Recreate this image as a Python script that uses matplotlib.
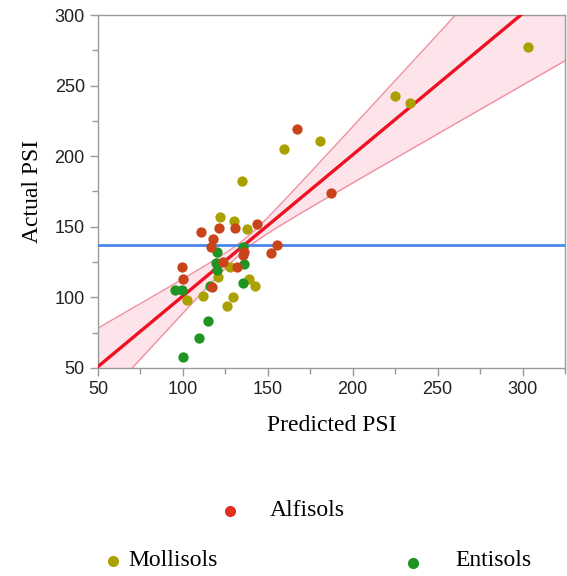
import numpy as np
import matplotlib
matplotlib.use("Agg")
import matplotlib.pyplot as plt
from matplotlib.ticker import MultipleLocator
from matplotlib.lines import Line2D

# Data (predicted, actual)
alfisols_pred = [167, 187, 143.5, 110.6, 121.2, 130.6, 117.6, 116.5, 155.3, 151.8, 136, 135.3, 123.5, 131.8, 99.4, 100, 117]
alfisols_act = [219, 174, 152, 146.3, 149, 149, 141.4, 135.7, 137, 131.4, 132, 130, 125, 121.5, 121.5, 113, 107.4]

mollisols_pred = [303, 224.7, 234, 159.4, 180.6, 134.7, 121.8, 130, 138, 102.4, 111.8, 125.9, 129.4, 138.8, 142.4, 120.6, 127.6]
mollisols_act = [277, 242.6, 237.7, 205, 210.8, 182.4, 157, 154, 148.4, 98.2, 101, 93.9, 100.3, 113, 108, 114.4, 121.5]

entisols_pred = [120, 135.3, 119.4, 135.9, 120, 95.3, 99.4, 115.9, 135.3, 114.7, 109.4, 100]
entisols_act = [132, 135.7, 124.4, 123.7, 119.4, 105.2, 105.2, 108, 110.2, 83.3, 71.2, 57.8]

# Fit line, mean of actual and confidence band shape
fit_slope = 1.0
fit_intercept = 1.0
mean_actual = 137
ci_center = 137
ci_base = 4.0
ci_slope = 0.31

x_min, x_max = 50, 325
y_min, y_max = 50, 300

fig = plt.figure(figsize=(5.67, 5.76), dpi=100)
ax = fig.add_axes([98 / 567, 1 - 368 / 576, 467 / 567, 353 / 576])

xs = np.linspace(x_min, x_max, 400)
fit = fit_slope * xs + fit_intercept
hw = np.sqrt(ci_base ** 2 + (ci_slope * (xs - ci_center)) ** 2)

ax.fill_between(xs, fit - hw, fit + hw, color="#fde3ea", zorder=1, lw=0)
ax.plot(xs, fit + hw, color="#f090a0", lw=1.0, zorder=2)
ax.plot(xs, fit - hw, color="#f090a0", lw=1.0, zorder=2)
ax.plot(xs, fit, color="#ee1122", lw=2.4, zorder=3)
ax.axhline(mean_actual, color="#4a86e8", lw=2.0, zorder=3)

dot = 55
ax.scatter(mollisols_pred, mollisols_act, s=dot, color="#aaa000", lw=0, zorder=4)
ax.scatter(entisols_pred, entisols_act, s=dot, color="#1e9422", lw=0, zorder=5)
ax.scatter(alfisols_pred, alfisols_act, s=dot, color="#c9441a", lw=0, zorder=6)

ax.set_xlim(x_min, x_max)
ax.set_ylim(y_min, y_max)
ax.xaxis.set_major_locator(MultipleLocator(50))
ax.xaxis.set_minor_locator(MultipleLocator(25))
ax.yaxis.set_major_locator(MultipleLocator(50))
ax.yaxis.set_minor_locator(MultipleLocator(25))

for sp in ax.spines.values():
    sp.set_color("#9a9a9a")
    sp.set_linewidth(1.0)
ax.tick_params(which="both", direction="out", color="#9a9a9a", width=1.0)
ax.tick_params(which="major", length=6, labelsize=13, labelcolor="#222222")
ax.tick_params(which="minor", length=4)
for lab in ax.get_xticklabels() + ax.get_yticklabels():
    lab.set_family("Liberation Sans")

serif = "Liberation Serif"
ax.set_xlabel("Predicted PSI", family=serif, fontsize=17, labelpad=12)
ax.set_ylabel("Actual PSI", family=serif, fontsize=17, labelpad=8)

# Legend drawn as figure text and markers
fig.add_artist(Line2D([230 / 567], [1 - 511 / 576], marker="o", ms=7, color="#e2301e", lw=0))
fig.text(270 / 567, 1 - 511 / 576, "Alfisols", family=serif, fontsize=17, va="center")
fig.add_artist(Line2D([113 / 567], [1 - 561 / 576], marker="o", ms=7, color="#aaa000", lw=0))
fig.text(128 / 567, 1 - 561 / 576, "Mollisols", family=serif, fontsize=17, va="center")
fig.add_artist(Line2D([413 / 567], [1 - 563 / 576], marker="o", ms=7, color="#1e9422", lw=0))
fig.text(455 / 567, 1 - 561 / 576, "Entisols", family=serif, fontsize=17, va="center")

fig.savefig("out.png", dpi=100)
